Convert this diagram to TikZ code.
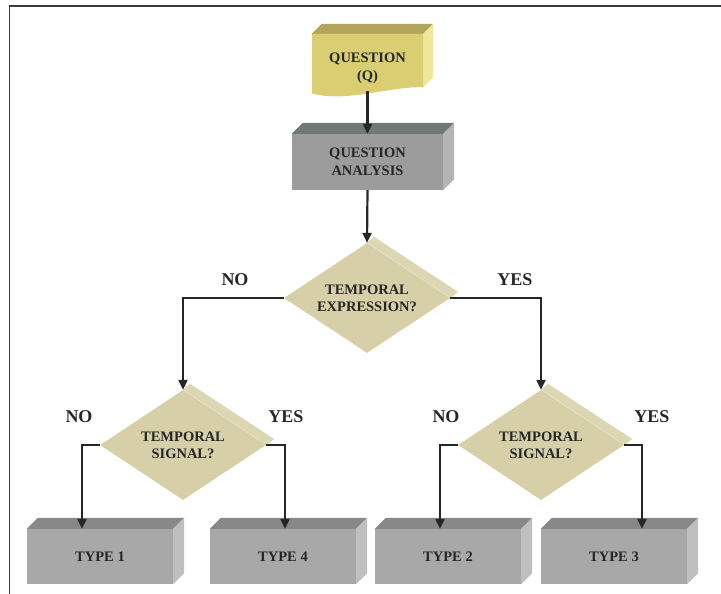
\documentclass[tikz,border=0pt]{standalone}
\usepackage{fontspec}
\setmainfont{Liberation Serif}
\usetikzlibrary{arrows.meta, positioning, shapes.geometric, calc, backgrounds}
\definecolor{cink}{HTML}{262626}
\definecolor{cframe}{HTML}{3A3A3A}
\definecolor{cqfront}{HTML}{D9CE72}
\definecolor{cqtop}{HTML}{B3A65C}
\definecolor{cqside}{HTML}{EEE898}
\definecolor{cafront}{HTML}{9C9C9C}
\definecolor{catop}{HTML}{707977}
\definecolor{caside}{HTML}{B4B4B4}
\definecolor{cgfront}{HTML}{A8A8A8}
\definecolor{cgtop}{HTML}{888888}
\definecolor{cgside}{HTML}{BFBFBF}
\definecolor{ctan}{HTML}{D6CFA8}
\definecolor{ctanedge}{HTML}{DCD6B2}
\tikzset{
  every picture/.style={x=1pt, y=-1pt},
  face/.style={fill=#1, inner sep=0pt, align=center, text=cink, font=\bfseries\fontsize{14.5}{18}\selectfont},
  face/.default=cgfront,
  block/.style={face=cgfront, minimum width=146pt, minimum height=55pt},
  decide/.style={diamond, aspect=1.5, fill=ctan, inner sep=0pt, minimum width=166pt, minimum height=110pt, align=center, text=cink, font=\bfseries\fontsize{14.5}{17}\selectfont},
  arrow/.style={-{Triangle[length=10pt, width=9pt]}, draw=cink, line width=2.2pt},
  answer/.style={font=\bfseries\fontsize{18}{20}\selectfont, text=cink},
}

\begin{document}
\begin{tikzpicture}
  \useasboundingbox (0,0) rectangle (721,594);
  \draw[cframe, line width=1.6pt] (9.5,594) -- (9.5,6) -- (721,6);
  % question and analysis
  \node[face=cqfront, fill=none, minimum width=111pt, minimum height=60pt] (q) at (367.5,64) {\rule{0pt}{18pt}QUESTION\\(Q)};
  \node[face=cafront, minimum width=151pt, minimum height=56pt] (qa) at (367.5,162) {QUESTION\\ANALYSIS};
  % decisions
  \node[decide] (d1) at (367,298) {TEMPORAL\\EXPRESSION?};
  \node[decide] (d2) at (183,445) {TEMPORAL\\SIGNAL?};
  \node[decide] (d3) at (541,445) {TEMPORAL\\SIGNAL?};
  % types
  \node[block] (t1) at (100,556.5) {TYPE 1};
  \node[block] (t4) at (283,556.5) {TYPE 4};
  \node[block] (t2) at (448,556.5) {TYPE 2};
  \node[block] (t3) at (614,556.5) {TYPE 3};
  \begin{scope}[on background layer]
    \fill[cqtop] (q.north west) -- ++(10,-10) -- ($(q.north east)+(10,-10)$) -- (q.north east) -- cycle;
    \fill[cqside] (q.north east) -- ++(10,-10) -- ($(q.south east)+(10,-17)$) -- ($(q.south east)+(0,-7)$) -- cycle;
    \fill[cqfront] (q.north west) -- (q.north east) -- ($(q.south east)+(0,-7)$)
      .. controls ($(q.south east)+(-33,-8)$) and ($(q.south west)+(33,9)$) .. ($(q.south west)+(0,-1)$) -- cycle;
    \foreach \n/\tc/\sc in {qa/catop/caside, t1/cgtop/cgside, t4/cgtop/cgside, t2/cgtop/cgside, t3/cgtop/cgside} {
      \fill[\tc] (\n.north west) -- ++(11,-11) -- ($(\n.north east)+(11,-11)$) -- (\n.north east) -- cycle;
      \fill[\sc] (\n.north east) -- ++(11,-11) -- ($(\n.south east)+(11,-11)$) -- (\n.south east) -- cycle;
    }
    \foreach \d in {d1,d2,d3} {
      \fill[ctanedge] (\d.north) -- ++(7,-6) -- ($(\d.east)+(8,-6)$) -- (\d.east) -- cycle;
      \draw[white!55!ctan, line width=0.7pt] (\d.north) -- (\d.east);
    }
  \end{scope}
  % connectors
  \draw[arrow] ($(q.south)+(0,-3)$) -- (qa.north);
  \draw[arrow] (qa.south) -- (d1.north);
  \draw[arrow] (d1.west) -| (d2.north);
  \draw[arrow] (d1.east) -| (d3.north);
  \coordinate (k1) at (82,445);
  \coordinate (k4) at (285,445);
  \coordinate (k2) at (440,445);
  \coordinate (k3) at (642,445);
  \draw[arrow] (d2.west) -- (k1) -- (k1 |- t1.north);
  \draw[arrow] (d2.east) -- (k4) -- (k4 |- t4.north);
  \draw[arrow] (d3.west) -- (k2) -- (k2 |- t2.north);
  \draw[arrow] (d3.east) -- (k3) -- (k3 |- t3.north);
  % answers
  \node[answer] (no1) at (235,280) {NO};
  \node[answer] (yes1) at (515,280) {YES};
  \node[answer] (no2) at (79,417) {NO};
  \node[answer] (yes2) at (286,417) {YES};
  \node[answer] (no3) at (446,417) {NO};
  \node[answer] (yes3) at (652,417) {YES};
\end{tikzpicture}
\end{document}
